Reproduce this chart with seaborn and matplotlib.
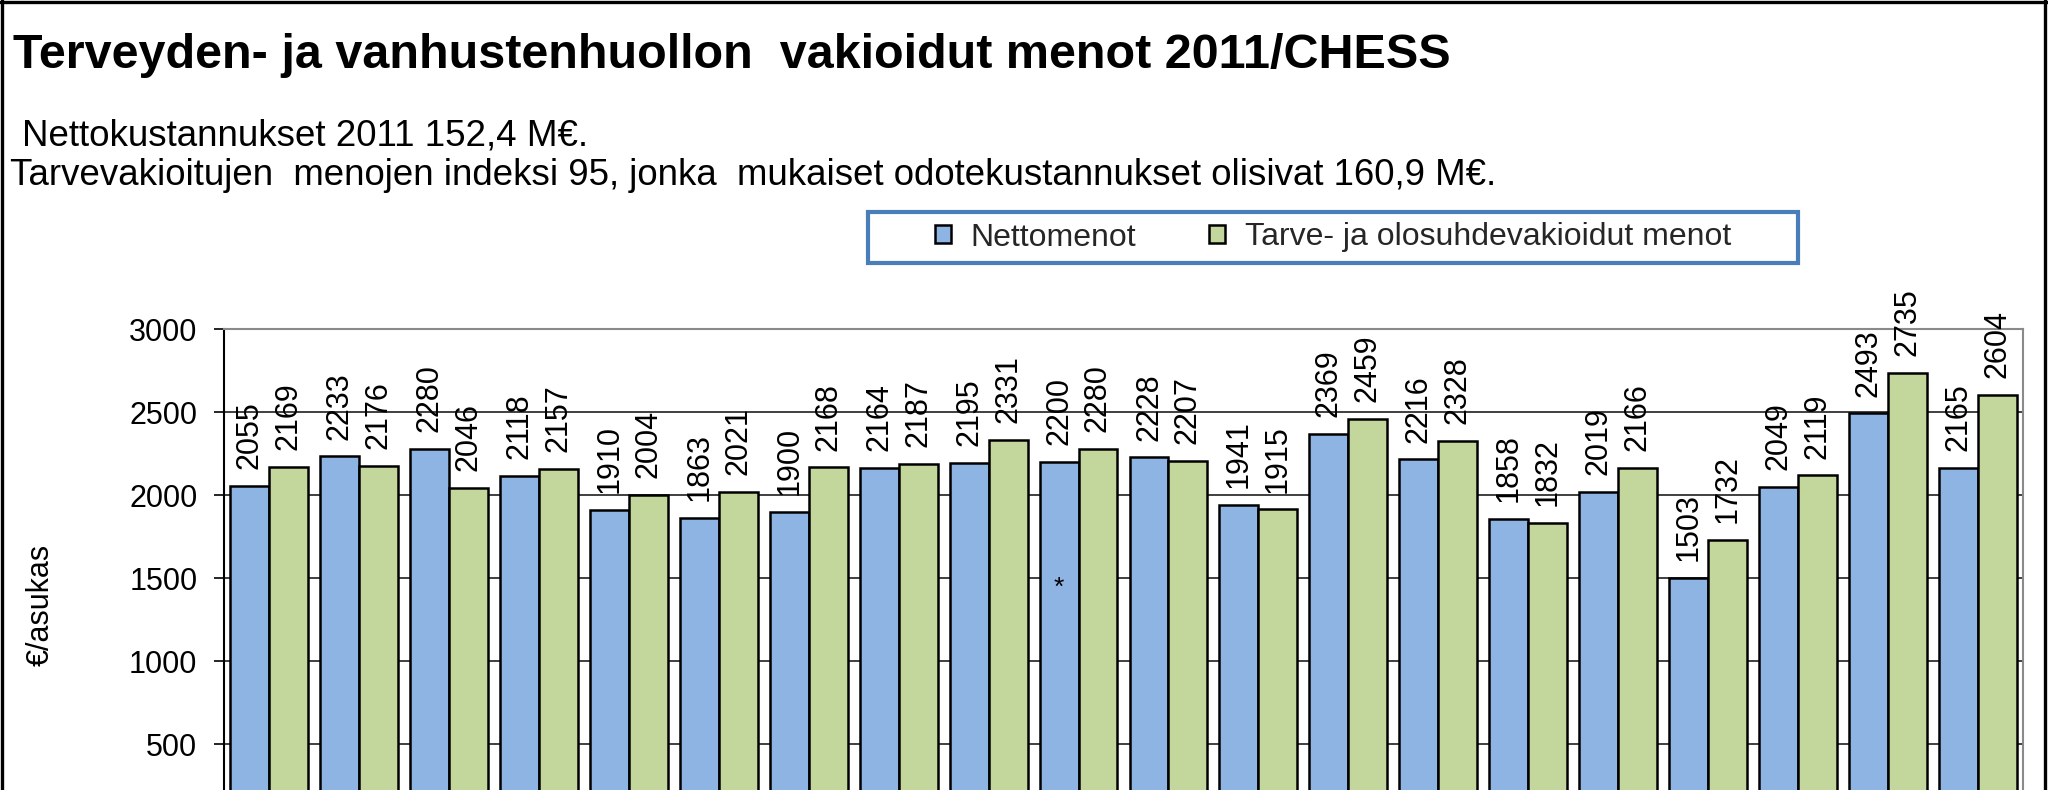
import matplotlib
matplotlib.use("Agg")
import matplotlib.pyplot as plt
import numpy as np
import pandas as pd
import seaborn as sns
from matplotlib.lines import Line2D
from matplotlib.patches import Patch, Rectangle

# ---------------- data ----------------
categories = ["1", "2", "3", "4", "5", "6", "7", "8", "9", "10",
              "11", "12", "13", "14", "15", "16", "17", "18", "19", "20"]
nettomenot = [2055, 2233, 2280, 2118, 1910, 1863, 1900, 2164, 2195, 2200,
              2228, 1941, 2369, 2216, 1858, 2019, 1503, 2049, 2493, 2165]
vakioidut = [2169, 2176, 2046, 2157, 2004, 2021, 2168, 2187, 2331, 2280,
             2207, 1915, 2459, 2328, 1832, 2166, 1732, 2119, 2735, 2604]
series_names = ["Nettomenot", "Tarve- ja olosuhdevakioidut menot"]
y_min, y_max = 0, 3000
yticks = [500, 1000, 1500, 2000, 2500, 3000]   # 0 lies below the cropped edge

title_text = "Terveyden- ja vanhustenhuollon  vakioidut menot 2011/CHESS"
sub1_text = "Nettokustannukset 2011 152,4 M€."
sub2_text = "Tarvevakioitujen  menojen indeksi 95, jonka  mukaiset odotekustannukset olisivat 160,9 M€."
ylabel_text = "€/asukas"
star_text = "*"

df = pd.DataFrame({
    "alue": categories * 2,
    "sarja": [series_names[0]] * len(categories) + [series_names[1]] * len(categories),
    "arvo": nettomenot + vakioidut,
})

# ---------------- style ----------------
sns.set_theme(style="white")
plt.rcParams["font.family"] = ["Liberation Sans", "DejaVu Sans"]

W, H = 2048, 790
fig = plt.figure(figsize=(W / 100, H / 100), dpi=100)
fig.patch.set_facecolor("white")

ax_left, ax_right, ax_top, ax_bottom = 224, 2023, 329, 827.5
ax = fig.add_axes([ax_left / W, (H - ax_bottom) / H,
                   (ax_right - ax_left) / W, (ax_bottom - ax_top) / H])

colors = ["#8EB4E3", "#C3D69B"]
sns.barplot(data=df, x="alue", y="arvo", hue="sarja", palette=colors,
            width=0.866, edgecolor="black", linewidth=1.8, saturation=1,
            errorbar=None, ax=ax)

ax.set_xlim(-0.5, len(categories) - 0.5)
ax.set_ylim(y_min, y_max)
ax.set_yticks(yticks)
ax.set_yticklabels([str(v) for v in yticks])
ax.set_xticks([])
ax.set_xlabel("")
ax.set_axisbelow(True)
ax.yaxis.grid(True, color="#303030", linewidth=1.3)
ax.xaxis.grid(False)

ax.tick_params(axis="y", direction="out", length=7.2, width=1.2, pad=12,
               labelsize=22, colors="black", left=True)
for side, col in [("left", "black"), ("bottom", "black"),
                  ("top", "#8a8a8a"), ("right", "#8a8a8a")]:
    ax.spines[side].set_visible(True)
    ax.spines[side].set_color(col)
    ax.spines[side].set_linewidth(1.5)

ax.set_ylabel(ylabel_text, fontsize=22, color="black")
ax.yaxis.set_label_coords(56 / W, 1 - 605 / H, transform=fig.transFigure)

# bar value labels
for cont in ax.containers:
    ax.bar_label(cont, fmt="%d", rotation=90, padding=12, fontsize=22,
                 color="black", clip_on=False)

# asterisk on the 10th Nettomenot bar
bar = ax.containers[0][9]
ax.text(bar.get_x() + bar.get_width() / 2, 1440, star_text,
        ha="center", va="center", fontsize=19, color="black")

# legend
if ax.get_legend() is not None:
    ax.get_legend().remove()
handles = [Patch(facecolor=c, edgecolor="black", linewidth=1.8) for c in colors]
leg_box = (868, 212, 1798, 263)
fig.legend(handles, series_names, loc="center",
           bbox_to_anchor=((leg_box[0] + leg_box[2]) / 2 / W,
                           1 - (leg_box[1] + leg_box[3]) / 2 / H),
           ncol=2, fontsize=23, frameon=False, handlelength=0.5,
           handleheight=0.5, handletextpad=0.6, columnspacing=2.3)
fig.patches.append(Rectangle((leg_box[0] / W, 1 - leg_box[3] / H),
                             (leg_box[2] - leg_box[0]) / W,
                             (leg_box[3] - leg_box[1]) / H,
                             transform=fig.transFigure, fill=False,
                             edgecolor="#4A7EBB", linewidth=3))

# titles
t_title = fig.text(13 / W, 1 - 68 / H, title_text, fontsize=32,
                   fontweight="bold", ha="left", va="baseline", color="black")
t_sub1 = fig.text(22 / W, 1 - 145 / H, sub1_text, fontsize=24,
                  ha="left", va="baseline", color="black")
t_sub2 = fig.text(10 / W, 1 - 185 / H, sub2_text, fontsize=24,
                  ha="left", va="baseline", color="black")

renderer = fig.canvas.get_renderer()
for t, target in [(t_title, 1439), (t_sub1, 568), (t_sub2, 1485)]:
    w = t.get_window_extent(renderer).width
    t.set_fontsize(t.get_fontsize() * target / w)

# outer frame (left, top, right; bottom is cropped)
fr = dict(color="black", linewidth=2.4, transform=fig.transFigure)
fig.lines.append(Line2D([1.5 / W, 1.5 / W], [0, 1], **fr))
fig.lines.append(Line2D([0, 1], [1 - 2 / H, 1 - 2 / H], **fr))
fig.lines.append(Line2D([1 - 3 / W, 1 - 3 / W], [0, 1], **fr))

fig.savefig("out.png", dpi=100)
